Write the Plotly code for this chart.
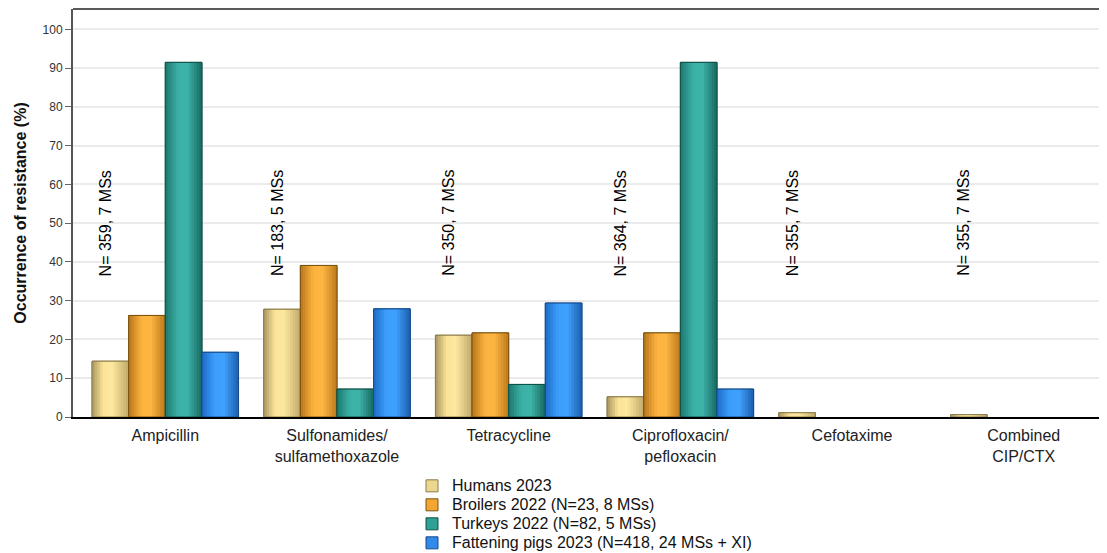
import plotly.graph_objects as go

categories = ["Ampicillin", "Sulfonamides/<br>sulfamethoxazole", "Tetracycline",
              "Ciprofloxacin/<br>pefloxacin", "Cefotaxime", "Combined<br>CIP/CTX"]
humans_2023 = [14.4, 27.8, 21.1, 5.2, 1.1, 0.6]
broilers_2022 = [26.2, 39.1, 21.7, 21.7, None, None]
turkeys_2022 = [91.5, 7.2, 8.4, 91.5, None, None]
pigs_2023 = [16.7, 27.9, 29.4, 7.2, None, None]
n_labels = ["N= 359, 7 MSs", "N= 183, 5 MSs", "N= 350, 7 MSs",
            "N= 364, 7 MSs", "N= 355, 7 MSs", "N= 355, 7 MSs"]
series_names = ["Humans 2023", "Broilers 2022 (N=23, 8 MSs)",
                "Turkeys 2022 (N=82, 5 MSs)", "Fattening pigs 2023 (N=418, 24 MSs + XI)"]
series_values = [humans_2023, broilers_2022, turkeys_2022, pigs_2023]

FONT = "Liberation Sans, Arial, sans-serif"

gradients = [
    [(0, (0xa8, 0x97, 0x5f)), (0.3, (0xfb, 0xe3, 0x98)), (0.55, (0xfd, 0xe8, 0x9f)), (1, (0xc0, 0xa9, 0x6a))],
    [(0, (0xb7, 0x76, 0x1b)), (0.35, (0xfd, 0xb2, 0x3e)), (0.6, (0xfd, 0xb6, 0x43)), (1, (0xbd, 0x78, 0x19))],
    [(0, (0x1d, 0x78, 0x6e)), (0.35, (0x3c, 0xb1, 0xa6)), (0.6, (0x3e, 0xb3, 0xa8)), (1, (0x17, 0x69, 0x5f))],
    [(0, (0x1e, 0x6c, 0xc6)), (0.35, (0x3c, 0x9e, 0xfc)), (0.6, (0x3f, 0xa1, 0xfd)), (1, (0x1c, 0x5e, 0xae))],
]
outline_colors = ["#8a7a48", "#7a5310", "#0f4f47", "#154a8a"]
legend_colors = ["#ecd78e", "#f3a633", "#2fa095", "#3189ea"]


def interp(stops, t):
    for (t0, c0), (t1, c1) in zip(stops[:-1], stops[1:]):
        if t0 <= t <= t1:
            f = (t - t0) / (t1 - t0) if t1 > t0 else 0
            return "rgb(%d,%d,%d)" % tuple(round(a + (b - a) * f) for a, b in zip(c0, c1))
    return "rgb(%d,%d,%d)" % stops[-1][1]


fig = go.Figure()
x_idx = list(range(len(categories)))
group_start = -0.4265
bw = 0.2133
NSTRIP = 14

for k, (name, vals) in enumerate(zip(series_names, series_values)):
    off = group_start + k * bw
    # legend / base trace
    fig.add_trace(go.Bar(x=x_idx, y=vals,
                         name='<span style="font-size:16px">%s</span>' % name,
                         width=bw, offset=off,
                         marker=dict(color=legend_colors[k], line=dict(color=outline_colors[k], width=1)),
                         legendgroup=name, showlegend=True, hoverinfo="skip"))
    sw = bw / NSTRIP
    for j in range(NSTRIP):
        t = (j + 0.5) / NSTRIP
        w = min(sw * 1.6, bw - j * sw)
        fig.add_trace(go.Bar(x=x_idx, y=vals, width=w, offset=off + j * sw,
                             marker=dict(color=interp(gradients[k], t), line=dict(width=0)),
                             legendgroup=name, showlegend=False, hoverinfo="skip"))
    fig.add_trace(go.Bar(x=x_idx, y=vals, width=bw, offset=off,
                         marker=dict(color="rgba(0,0,0,0)", line=dict(color=outline_colors[k], width=1)),
                         legendgroup=name, showlegend=False, hoverinfo="skip"))

for i, txt in enumerate(n_labels):
    fig.add_annotation(x=i - 0.35, y=50, text=txt, textangle=-90, showarrow=False,
                       font=dict(family=FONT, size=16, color="#000000"),
                       xanchor="center", yanchor="middle")

fig.add_shape(type="line", xref="paper", yref="paper", x0=0, x1=1, y0=1, y1=1,
              line=dict(color="#5a5a5a", width=2))

# The page body adds an 8px offset; figure coordinates below are page coordinates minus 8.
W, H = 1099, 553
PLOT_LEFT, PLOT_TOP, PLOT_BOT = 65, 1, 408.7
PH = PLOT_BOT - PLOT_TOP
PW = W - PLOT_LEFT
fig.update_layout(
    width=W, height=H,
    margin=dict(l=PLOT_LEFT, r=0, t=PLOT_TOP, b=H - PLOT_BOT),
    paper_bgcolor="white", plot_bgcolor="white",
    barmode="overlay",
    font=dict(family=FONT, size=16, color="#222222"),
    showlegend=True,
    legend=dict(x=(404 - PLOT_LEFT) / PW, y=(PLOT_BOT - 463) / PH, xanchor="left", yanchor="top",
                orientation="v",
                font=dict(family=FONT, size=12, color="#111111"),
                bgcolor="rgba(0,0,0,0)", itemclick=False, tracegroupgap=0),
)
fig.update_xaxes(
    type="linear", range=[-0.5375, 5.485],
    tickvals=x_idx, ticktext=categories,
    showgrid=False, zeroline=False, automargin=False,
    showline=True, linecolor="#000000", linewidth=2,
    ticks="", tickfont=dict(family=FONT, size=16, color="#222222"),
    ticklabelstandoff=3,
)
fig.update_yaxes(
    range=[0, 105.27], tickvals=list(range(0, 101, 10)), automargin=False,
    showgrid=True, gridcolor="#ebebeb", gridwidth=2,
    zeroline=False, showline=True, linecolor="#555555", linewidth=2,
    ticks="outside", ticklen=6, tickcolor="#666666", tickwidth=1,
    tickfont=dict(family=FONT, size=12, color="#333333"),
    title=dict(text="<b>Occurrence of resistance (%)</b>", standoff=12,
               font=dict(family=FONT, size=16, color="#111111")),
)

fig.write_html("out.html")
